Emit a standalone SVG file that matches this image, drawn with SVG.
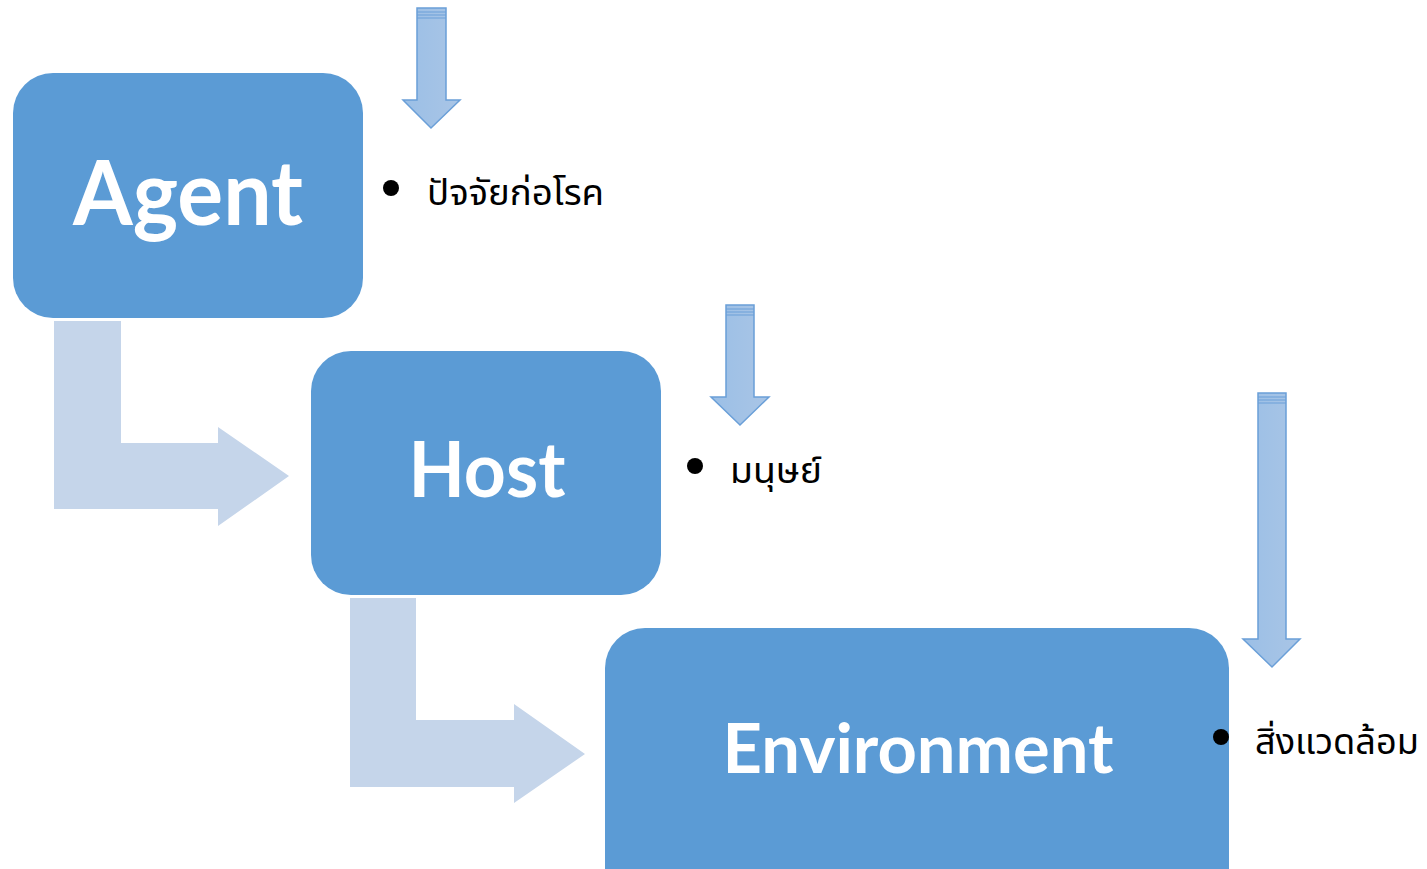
<svg xmlns="http://www.w3.org/2000/svg" width="1427" height="869" viewBox="0 0 1427 869">
<defs>
<linearGradient id="dg" x1="0" y1="0" x2="1" y2="0">
<stop offset="0" stop-color="#9bbfe6"/>
<stop offset="1" stop-color="#a9c5e6"/>
</linearGradient>
</defs>
<style>
.box{fill:#5b9bd5}
.bend{fill:#c5d5ea}
.down{fill:url(#dg);stroke:#6a9fd8;stroke-width:1.5}
.stripe{stroke:#6a9fd8;stroke-width:1}
.lbl{font-family:Lato,"Open Sans",sans-serif;font-weight:bold;fill:#ffffff;text-anchor:middle}
.th{font-family:"Noto Sans Thai","Noto Sans","DejaVu Sans",sans-serif;font-size:35px;font-weight:normal;fill:#000}
</style>
<rect width="1427" height="869" fill="#ffffff"/>
<g id="connectors">
<path class="bend" d="M54,321 H121 V443 H218 V427 L289,476 L218,526 V509 H54 Z"/>
<path class="bend" d="M350,598 H416 V720 H514 V704 L585,754 L514,803 V787 H350 Z"/>
<g id="down1">
<path class="down" d="M417,8 H446 V100 H460 L431,128 L403,100 H417 Z"/>
<line class="stripe" x1="417" y1="12" x2="446" y2="12"/>
<line class="stripe" x1="417" y1="15" x2="446" y2="15"/>
<line class="stripe" x1="417" y1="18" x2="446" y2="18"/>
</g>
<g id="down2">
<path class="down" d="M726,305 H754 V397 H769 L740,425 L711,397 H726 Z"/>
<line class="stripe" x1="726" y1="309" x2="754" y2="309"/>
<line class="stripe" x1="726" y1="312" x2="754" y2="312"/>
<line class="stripe" x1="726" y1="315" x2="754" y2="315"/>
</g>
<g id="down3">
<path class="down" d="M1258,393 H1286 V639 H1300 L1272,667 L1243,639 H1258 Z"/>
<line class="stripe" x1="1258" y1="397" x2="1286" y2="397"/>
<line class="stripe" x1="1258" y1="400" x2="1286" y2="400"/>
<line class="stripe" x1="1258" y1="403" x2="1286" y2="403"/>
</g>
</g>
<g id="agent">
<rect class="box" x="13" y="73" width="350" height="245" rx="40"/>
<text class="lbl" x="188" y="225" font-size="90" textLength="230" lengthAdjust="spacingAndGlyphs">Agent</text>
</g>
<g id="host">
<rect class="box" x="311" y="351" width="350" height="244" rx="40"/>
<text class="lbl" x="487" y="497" font-size="76" textLength="157" lengthAdjust="spacingAndGlyphs">Host</text>
</g>
<g id="environment">
<rect class="box" x="605" y="628" width="624" height="290" rx="40"/>
<text class="lbl" x="918" y="773" font-size="68" textLength="391" lengthAdjust="spacingAndGlyphs">Environment</text>
</g>
<g id="note-agent">
<circle cx="391" cy="188" r="8" fill="#000"/>
<text class="th" x="427" y="205" textLength="177" lengthAdjust="spacingAndGlyphs">ปัจจัยก่อโรค</text>
</g>
<g id="note-host">
<circle cx="695" cy="466" r="8" fill="#000"/>
<text class="th" x="730" y="483" textLength="92" lengthAdjust="spacingAndGlyphs">มนุษย์</text>
</g>
<g id="note-env">
<circle cx="1221" cy="737" r="8" fill="#000"/>
<text class="th" x="1255" y="754" textLength="164" lengthAdjust="spacingAndGlyphs">สิ่งแวดล้อม</text>
</g>
</svg>
